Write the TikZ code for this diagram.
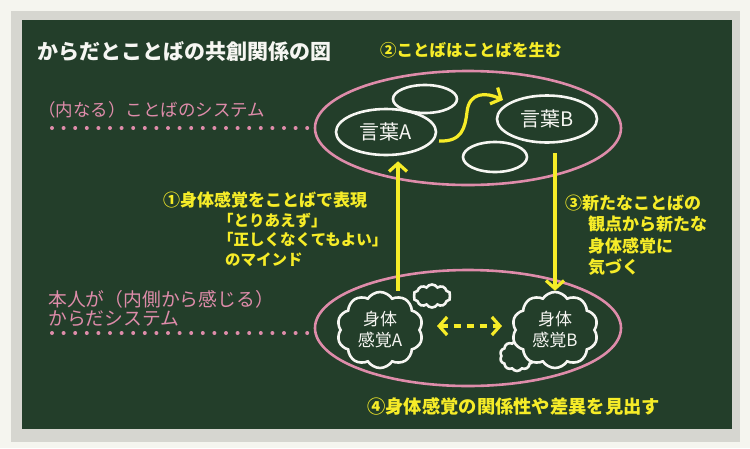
\documentclass[tikz,border=0pt]{standalone}
\usepackage{fontspec}
\setmainfont{Noto Sans CJK JP}
\usetikzlibrary{shapes.geometric,shapes.symbols,arrows.meta,calc}
\definecolor{board}{RGB}{35,62,42}
\definecolor{frameg}{RGB}{214,214,208}
\definecolor{outerbg}{RGB}{245,245,239}
\definecolor{chalkpink}{RGB}{222,140,170}
\definecolor{chalkyellow}{RGB}{246,236,40}
\definecolor{chalkwhite}{RGB}{246,246,242}
\begin{document}
\begin{tikzpicture}[x=1pt,y=-1pt,
  txt/.style={inner sep=0pt,anchor=west},
  whitetxt/.style={txt,text=chalkwhite},
  pinktxt/.style={txt,text=chalkpink},
  yellowtxt/.style={txt,text=chalkyellow},
  bigell/.style={ellipse,draw=chalkpink,line width=2.6pt,inner sep=0pt},
  wordell/.style={ellipse,draw=chalkwhite,fill=board,line width=2.6pt,inner sep=0pt,text=chalkwhite,font=\fontsize{20}{24}\selectfont},
  sensecloud/.style={cloud,cloud puffs=10,cloud puff arc=115,cloud ignores aspect,draw=chalkwhite,fill=board,line width=2.6pt,inner sep=0pt,text=chalkwhite,align=center,font=\fontsize{17}{21}\selectfont},
  pinkdots/.style={draw=chalkpink,line width=4pt,line cap=round,dash pattern=on 0pt off 11.6pt},
  yarrow/.style={draw=chalkyellow,line width=3.2pt,-{Straight Barb[length=8pt,width=18pt]}},
  ydarrow/.style={draw=chalkyellow,line width=3.2pt,{Straight Barb[length=8pt,width=18pt]}-{Straight Barb[length=8pt,width=18pt]},dash pattern=on 7pt off 6pt}
]
\fill[outerbg] (0,0) rectangle (750,448);
\useasboundingbox (0,0) rectangle (750,448);
\fill[frameg] (11,11) rectangle (740,442);
\fill[board] (22,20) rectangle (732,429);

% title and headings
\node[whitetxt,font=\fontsize{21}{25}\selectfont\bfseries] (title) at (37,52) {からだとことばの共創関係の図};
\node[yellowtxt,font=\fontsize{16.5}{20}\selectfont\bfseries] (t2) at (380,50) {②ことばはことばを生む};
\node[pinktxt,font=\fontsize{17.5}{21}\selectfont] (lab1) at (38,110) {（内なる）ことばのシステム};
\node[pinktxt,font=\fontsize{18.8}{22}\selectfont] (lab2a) at (48,299) {本人が（内側から感じる）};
\node[pinktxt,font=\fontsize{18.8}{22}\selectfont] (lab2b) at (48,319) {からだシステム};

% big ellipses
\node[bigell,minimum width=306,minimum height=114] (bigU) at (468,128) {};
\node[bigell,minimum width=306,minimum height=116] (bigL) at (468,328) {};

% dotted leaders
\coordinate (d1) at (52,128);
\coordinate (d2) at (52,333);
\draw[pinkdots] (d1) -- (bigU.west);
\draw[pinkdots] (d2) -- (d2 -| bigL.west);

% word ellipses
\node[wordell,minimum width=64,minimum height=28] (e1) at (425,99) {};
\node[wordell,minimum width=64,minimum height=30] (e2) at (495,157) {};
\node[wordell,minimum width=100,minimum height=46] (ellA) at (386,132) {言葉A};
\node[wordell,minimum width=100,minimum height=47] (ellB) at (547,119) {言葉B};

% S curve
\coordinate (s1) at (439,141);
\coordinate (s2) at (503,100);
\draw[yarrow] (s1) .. controls (462,142) and (465,128) .. (467,112) .. controls (469,92) and (486,92) .. (s2);

% clouds
\node[sensecloud,minimum width=37,minimum height=23] (c1) at (432,296) {};
\node[sensecloud,minimum width=34,minimum height=30] (c2) at (517,356) {};
\node[sensecloud,minimum width=86,minimum height=76] (cloudA) at (380,330) {身体\\感覚A};
\node[sensecloud,minimum width=86,minimum height=76] (cloudB) at (555,330) {身体\\感覚B};

% vertical arrows
\coordinate (xa) at (398,0);
\coordinate (xb) at (555,0);
\draw[yarrow,shorten >=5pt] (cloudA.north -| xa) -- (ellA.south -| xa);
\draw[yarrow,shorten <=9pt] (ellB.south -| xb) -- (cloudB.north -| xb);

% dotted double arrow
\coordinate (h1) at (437,326);
\coordinate (h2) at (502,326);
\draw[ydarrow] (h1) -- (h2);

% step 1 text
\node[yellowtxt,font=\fontsize{17}{20}\selectfont\bfseries] (s1a) at (163,200) {①身体感覚をことばで表現};
\node[yellowtxt,font=\fontsize{15.5}{19}\selectfont\bfseries] (s1b) at (218,221) {「とりあえず」};
\node[yellowtxt,font=\fontsize{15.5}{19}\selectfont\bfseries] (s1c) at (218,240) {「正しくなくてもよい」};
\node[yellowtxt,font=\fontsize{15.5}{19}\selectfont\bfseries] (s1d) at (225,260) {のマインド};

% step 3 text
\node[yellowtxt,font=\fontsize{17}{20}\selectfont\bfseries] (s3a) at (565,203) {③新たなことばの};
\node[yellowtxt,font=\fontsize{17}{20}\selectfont\bfseries] (s3b) at (588,224) {観点から新たな};
\node[yellowtxt,font=\fontsize{17}{20}\selectfont\bfseries] (s3c) at (588,246) {身体感覚に};
\node[yellowtxt,font=\fontsize{17}{20}\selectfont\bfseries] (s3d) at (588,267) {気づく};

% step 4 text
\node[yellowtxt,font=\fontsize{18.3}{22}\selectfont\bfseries] (s4) at (367,406) {④身体感覚の関係性や差異を見出す};
\end{tikzpicture}
\end{document}
